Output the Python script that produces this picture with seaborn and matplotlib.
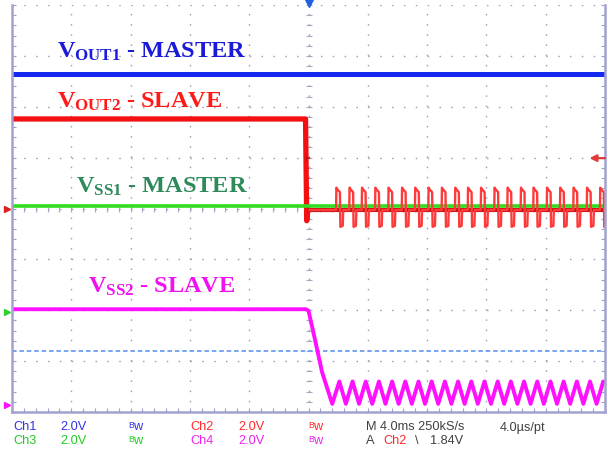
import numpy as np
import pandas as pd
import seaborn as sns
import matplotlib.pyplot as plt
from matplotlib.ticker import MultipleLocator

# scope: 4 ms/div over 10 divs, levels are in vertical divisions (2 V/div, 8 divs)
t_lim = [-20, 20]
v_lim = [-4, 4]

# Ch1 - VOUT1 master
ch1_t = [-20, 20]
ch1_v = [2.64, 2.64]

# Ch2 - VOUT2 slave: high, falls at trigger, then switching spikes
ch2_hi_t = [-20, -0.20, -0.12, -0.06, 0.05]
ch2_hi_v = [1.76, 1.76, -0.24, -0.05, -0.03]
ch2_base = -0.03
ch2_pulse_start = [1.86, 2.75, 3.59, 4.49, 5.38, 6.29, 7.18, 8.08, 8.98, 9.88, 10.74,
                   11.62, 12.53, 13.41, 14.31, 15.16, 16.07, 16.96, 17.86, 18.77, 19.66]
ch2_pulse_dt = [0.0, 0.02, 0.08, 0.26, 0.29, 0.45, 0.48]
ch2_pulse_v = [-0.03, 0.41, 0.38, 0.32, -0.36, -0.34, -0.03]

# Ch3 - VSS1 master
ch3_t = [-20, 20]
ch3_v = [0.05, 0.05]

# Ch4 - VSS2 slave: flat, ramps down, then triangle ripple
ch4_t = [-20, -0.17, 0.0, 0.44, 0.91, 1.60]
ch4_v = [-1.98, -1.98, -2.01, -2.58, -3.21, -3.84]
ch4_peak_t = [2.08, 2.97, 3.86, 4.75, 5.64, 6.53, 7.42, 8.31, 9.20, 10.09, 10.98,
              11.87, 12.76, 13.65, 14.54, 15.43, 16.32, 17.21, 18.10, 18.99, 19.88]
ch4_trough_t = [2.52, 3.41, 4.30, 5.19, 6.08, 6.97, 7.86, 8.75, 9.64, 10.53,
                11.42, 12.31, 13.20, 14.09, 14.98, 15.87, 16.76, 17.65, 18.54, 19.43]
ch4_peak_v = -3.40
ch4_trough_v = -3.84

trig_level = 0.99      # Ch2 trigger level arrow
cursor_level = -2.80   # blue dashed cursor
gnd_levels = [0.0, -2.03, -3.86]

labels = [r'$\mathbf{V_{OUT1}}$ - MASTER', r'$\mathbf{V_{OUT2}}$ - SLAVE',
          r'$\mathbf{V_{SS1}}$ - MASTER', r'$\mathbf{V_{SS2}}$ - SLAVE']
label_colors = ['#1a1ad8', '#ff1a1a', '#2e8a5a', '#f010f0']
label_pos = [(57, 58), (57, 108), (76, 193), (88, 293)]

# build ch2 low section from pulse list
ch2_lo_t, ch2_lo_v = [0.05], [ch2_base]
for s in ch2_pulse_start:
    ch2_lo_t += [s + d for d in ch2_pulse_dt]
    ch2_lo_v += ch2_pulse_v
ch2_lo_t.append(20.5)
ch2_lo_v.append(ch2_base)

rip = sorted([(t, ch4_peak_v) for t in ch4_peak_t] + [(t, ch4_trough_v) for t in ch4_trough_t])
ch4_all_t = ch4_t + [r[0] for r in rip]
ch4_all_v = ch4_v + [r[1] for r in rip]

sns.set_theme(style='white')
plt.rcParams['mathtext.fontset'] = 'custom'
plt.rcParams['mathtext.bf'] = 'Liberation Serif:bold'
plt.rcParams['mathtext.rm'] = 'Liberation Serif'

W, H = 608, 449
fig = plt.figure(figsize=(W / 100, H / 100), dpi=100)
fig.patch.set_facecolor('white')
rect = [12 / W, 1 - 412 / H, 593 / W, 407 / H]

# center cross ticks
ax2 = fig.add_axes(rect)
ax2.set_xlim(t_lim)
ax2.set_ylim(v_lim)
ax2.patch.set_alpha(0)
for sp in ['top', 'right']:
    ax2.spines[sp].set_visible(False)
ax2.spines['left'].set_position(('data', 0))
ax2.spines['bottom'].set_position(('data', 0))
ax2.spines['left'].set_color('none')
ax2.spines['bottom'].set_color('none')
ax2.xaxis.set_major_locator(MultipleLocator(4))
ax2.xaxis.set_minor_locator(MultipleLocator(0.8))
ax2.yaxis.set_major_locator(MultipleLocator(1))
ax2.yaxis.set_minor_locator(MultipleLocator(0.2))
ax2.tick_params(which='both', direction='inout', length=4, width=0.8, color='#a8a8c4',
                labelleft=False, labelbottom=False, left=True, bottom=True)
ax2.grid(False)
ax2.set_zorder(1)

ax = fig.add_axes(rect)
ax.set_zorder(2)
ax.set_facecolor('none')
ax.set_xlim(t_lim)
ax.set_ylim(v_lim)
ax.xaxis.set_major_locator(MultipleLocator(4))
ax.xaxis.set_minor_locator(MultipleLocator(0.8))
ax.yaxis.set_major_locator(MultipleLocator(1))
ax.yaxis.set_minor_locator(MultipleLocator(0.2))
ax.xaxis.grid(True, which='major', linestyle=(0, (1.1, 6.23)), color='#a0a0b4', lw=1.0)
ax.yaxis.grid(True, which='major', linestyle=(0, (1.1, 7.44)), color='#a0a0b4', lw=1.0)
ax.tick_params(which='both', direction='in', length=3, width=0.8, color='#a0a0c8',
               left=True, right=True, bottom=True, top=False,
               labelleft=False, labelbottom=False)
ax.spines['top'].set_visible(False)
for sp in ['left', 'right', 'bottom']:
    ax.spines[sp].set_color('#a2a2d0')
    ax.spines[sp].set_linewidth(1.8)
ax.set_xlabel('')
ax.set_ylabel('')

ax.axhline(cursor_level, color='#6c9ef0', lw=1.3, linestyle=(0, (2.5, 1.6)), zorder=1)

kw = dict(ax=ax, sort=False, estimator=None, legend=False)
sns.lineplot(x=ch1_t, y=ch1_v, color='#1428f0', lw=3.6, **kw)
sns.lineplot(x=ch2_hi_t, y=ch2_hi_v, color='#f21010', lw=3.8, **kw)
sns.lineplot(x=[0.05, 20], y=[ch2_base, ch2_base], color='#c81414', lw=3.0, **kw)
sns.lineplot(x=ch3_t, y=ch3_v, color='#30dd20', lw=2.6, **kw)
sns.lineplot(x=ch2_lo_t, y=ch2_lo_v, color='#ff3a3a', lw=1.7, **kw)
sns.lineplot(x=ch4_all_t, y=ch4_all_v, color='#ff10ff', lw=2.8, **kw)

# markers: trigger position, trigger level, grounds
ax.plot([0], [4.05], marker='v', color='#2060e0', ms=7, clip_on=False)
ax.plot([-0.12], [trig_level], marker='+', color='#d01010', ms=5, mew=1.2)
ax.annotate('', xy=(18.95, trig_level), xytext=(20, trig_level),
            arrowprops=dict(arrowstyle='-|>', color='#e03a3a', lw=1.6, mutation_scale=10,
                            shrinkA=0, shrinkB=0),
            annotation_clip=False)
for lv, c in zip(gnd_levels, ['#e02020', '#30d030', '#ff10ff']):
    ax.plot([-20.35], [lv], marker='>', color=c, ms=4.5, clip_on=False)

def fpos(x, y):
    return x / W, 1 - y / H

for txt, c, (x, y) in zip(labels, label_colors, label_pos):
    fig.text(*fpos(x, y), txt, color=c, fontsize=17.5, family='Liberation Serif',
             weight='bold', ha='left', va='baseline')

# status bar
row1 = [('Ch1', 13, '#3232e6'), ('2.0V', 60, '#3232e6'), ('Ch2', 190, '#ff2a2a'),
        ('2.0V', 238, '#ff2a2a'), ('M 4.0ms 250kS/s', 366, '#404040'),
        ('4.0\u00b5s/pt', 500, '#404040')]
row2 = [('Ch3', 13, '#22cc22'), ('2.0V', 60, '#22cc22'), ('Ch4', 190, '#ee22ee'),
        ('2.0V', 238, '#ee22ee'), ('A', 366, '#404040'), ('Ch2', 383, '#ff2a2a'),
        ('\\', 415, '#404040'), ('1.84V', 430, '#404040')]
bw = [(128, 427.5, '#3232e6'), (308, 427.5, '#ff2a2a'),
      (128, 441, '#22cc22'), (308, 441, '#ee22ee')]
for row, yy in [(row1, 427.5), (row2, 441)]:
    for txt, xx, c in row:
        fig.text(*fpos(xx, yy), txt, color=c, fontsize=9.2, family='Liberation Sans',
                 ha='left', va='center')
for xx, yy, c in bw:
    fig.text(*fpos(xx, yy - 2), 'B', color=c, fontsize=6.2, family='Liberation Sans',
             ha='left', va='center')
    fig.text(*fpos(xx + 4.8, yy), 'w', color=c, fontsize=9.2, family='Liberation Sans',
             ha='left', va='center')

fig.savefig('out.png', dpi=100, facecolor='white')
